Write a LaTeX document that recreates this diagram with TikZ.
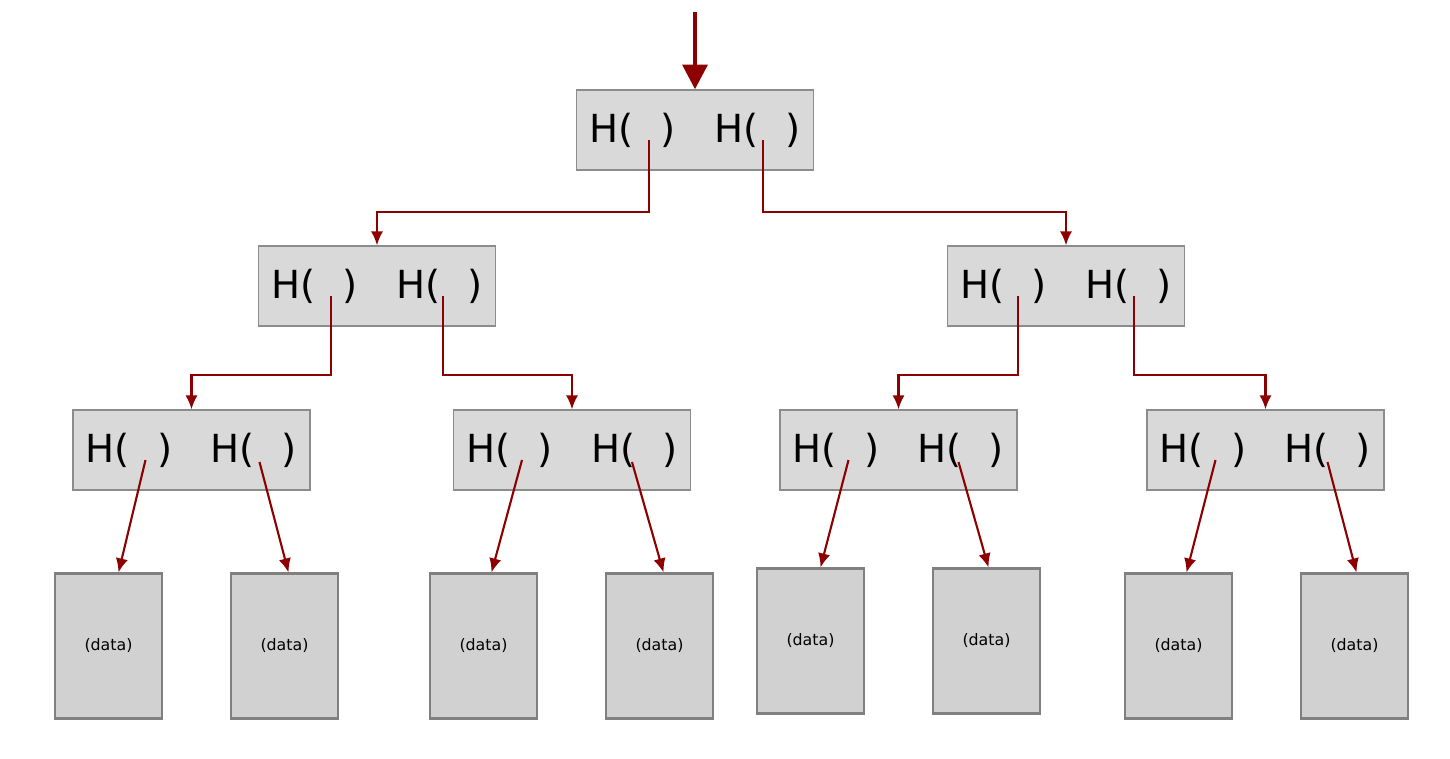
\documentclass[tikz,border=0pt]{standalone}
\usepackage{fontspec}
\setsansfont{DejaVu Sans}
\usetikzlibrary{calc}
\usetikzlibrary{arrows.meta}

\begin{document}
\begin{tikzpicture}[%
    x=0.02cm, y=-0.02cm,
hashnode/.style={rectangle, align=center, draw=black!45, fill=black!15, thick, minimum width=4.74cm, minimum height=1.6cm, inner sep=0pt, font=\sffamily\fontsize{22}{22}\selectfont},
datanode/.style={rectangle, align=center, draw=black!50, fill=black!18, very thick, minimum width=2.14cm, minimum height=2.9cm, inner sep=0pt, font=\sffamily\fontsize{9}{9}\selectfont},
link/.style={draw=red!55!black, line width=1.2pt, -{Latex[length=8pt,width=7pt]}},
]
\useasboundingbox (0,0) rectangle (1450,758);
\newcommand{\hpair}{H(\hspace{0.7em})\hspace{1em}H(\hspace{0.7em})}

% Root
\coordinate (entry) at (695,12);
\node[hashnode]   (root)  at (695,130) {\hpair};
\draw[draw=red!55!black, line width=2.4pt, -{Triangle[length=14pt,width=14pt]}] (entry) -- (root.north);

% Level one
\node[hashnode]   (left)  at (377,286) {\hpair};
\node[hashnode]   (right) at (1066,286) {\hpair};

% Level two
\node[hashnode]   (ll) at (191.5,450) {\hpair};
\node[hashnode]   (lr) at (572,450) {\hpair};
\node[hashnode]   (rl) at (898.5,450) {\hpair};
\node[hashnode]   (rr) at (1265.5,450) {\hpair};

% Data blocks
\node[datanode]   (d1) at (108.5,646) {(data)};
\node[datanode]   (d2) at (284.5,646) {(data)};
\node[datanode]   (d3) at (483.5,646) {(data)};
\node[datanode]   (d4) at (659.5,646) {(data)};
\node[datanode]   (d5) at (810.5,641) {(data)};
\node[datanode]   (d6) at (986.5,641) {(data)};
\node[datanode]   (d7) at (1178.5,646) {(data)};
\node[datanode]   (d8) at (1354.5,646) {(data)};

% Tree lines
\draw[link] ($(root)+(-46,10)$) |- ($(left.north)+(0,-33)$) -- (left.north);
\draw[link] ($(root)+(68,10)$) |- ($(right.north)+(0,-33)$) -- (right.north);
\draw[link] ($(left)+(-46,10)$) |- ($(ll.north)+(0,-34)$) -- (ll.north);
\draw[link] ($(left)+(66,10)$) |- ($(lr.north)+(0,-34)$) -- (lr.north);
\draw[link] ($(right)+(-48,10)$) |- ($(rl.north)+(0,-34)$) -- (rl.north);
\draw[link] ($(right)+(68,10)$) |- ($(rr.north)+(0,-34)$) -- (rr.north);

% Leaf lines
\draw[link] ($(ll)+(-46,10)$) -- ($(d1.north)+(10,0)$);
\draw[link] ($(ll)+(68,12)$) -- ($(d2.north)+(4,0)$);
\draw[link] ($(lr)+(-50,10)$) -- ($(d3.north)+(8,0)$);
\draw[link] ($(lr)+(60,12)$) -- ($(d4.north)+(4,0)$);
\draw[link] ($(rl)+(-50,10)$) -- ($(d5.north)+(10,0)$);
\draw[link] ($(rl)+(60,12)$) -- ($(d6.north)+(2,0)$);
\draw[link] ($(rr)+(-50,10)$) -- ($(d7.north)+(8,0)$);
\draw[link] ($(rr)+(62,12)$) -- ($(d8.north)+(2,0)$);

\end{tikzpicture}
\end{document}
